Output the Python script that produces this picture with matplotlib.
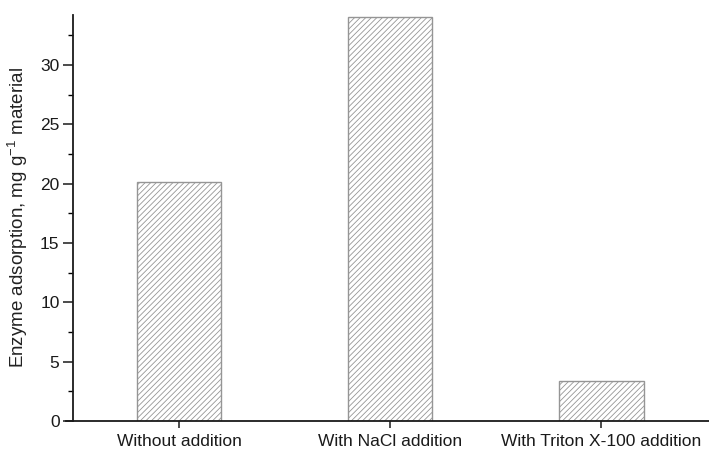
import matplotlib
matplotlib.use("Agg")
import matplotlib.pyplot as plt
from matplotlib.ticker import MultipleLocator

conditions = ["Without addition", "With NaCl addition", "With Triton X-100 addition"]
adsorption = [20.1, 34.0, 3.4]

plt.rcParams["font.family"] = ["Liberation Sans", "DejaVu Sans"]
plt.rcParams["mathtext.fontset"] = "custom"
plt.rcParams["mathtext.rm"] = "Liberation Sans"
plt.rcParams["hatch.linewidth"] = 0.6
plt.rcParams["hatch.color"] = "#a8a8a8"

fig = plt.figure(figsize=(7.09, 4.53), dpi=100)
ax = fig.add_axes([66 / 709, 32 / 453, 643 / 709, 406 / 453])

pos = list(range(len(conditions)))
ax.bar(pos, adsorption, width=0.4, color="white", edgecolor="#959595",
       linewidth=1.0, hatch="//////")

ax.set_xlim(-0.535, 2.51)
ax.set_ylim(0, 34.2)
ax.spines["left"].set_position(("data", -0.5))
ax.spines["top"].set_visible(False)
ax.spines["right"].set_visible(False)
for s in ("left", "bottom"):
    ax.spines[s].set_linewidth(1.3)
    ax.spines[s].set_color("#1a1a1a")

ax.set_xticks(pos)
ax.set_xticklabels(conditions, fontsize=12.5, color="#222222")
ax.yaxis.set_major_locator(MultipleLocator(5))
ax.yaxis.set_minor_locator(MultipleLocator(2.5))
ax.tick_params(axis="y", which="major", direction="out", length=7, width=1.1,
               labelsize=12.5, colors="#1a1a1a", pad=3)
ax.tick_params(axis="y", which="minor", direction="out", length=3.5, width=1.0)
ax.tick_params(axis="x", direction="out", length=5, width=1.1, colors="#1a1a1a", pad=4)

ax.set_ylabel(r"Enzyme adsorption, mg g$^{\mathrm{-1}}$ material", fontsize=13.5,
              labelpad=7, color="#222222")

fig.savefig("out.png", dpi=100)
